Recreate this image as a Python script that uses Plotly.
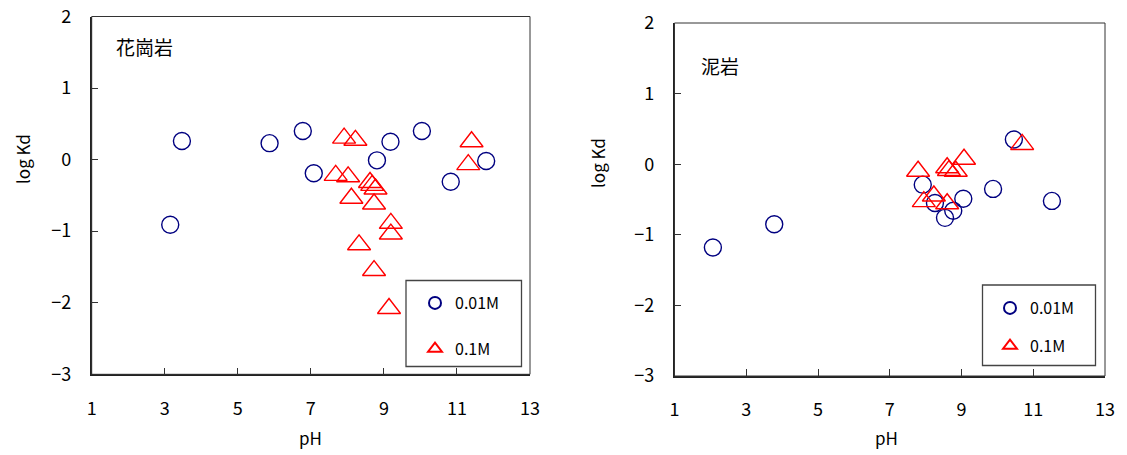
import plotly.graph_objects as go

# ---------------- data ----------------
# 花崗岩 (granite)
granite_001_ph = [3.15, 3.47, 5.87, 6.78, 7.08, 8.81, 9.18, 10.04, 10.83, 11.80]
granite_001_logkd = [-0.91, 0.26, 0.23, 0.40, -0.19, -0.01, 0.25, 0.40, -0.31, -0.02]
granite_01_ph = [7.91, 8.22, 11.40, 11.31, 7.68, 8.02, 8.62, 8.68, 8.77, 8.11, 8.73,
                 9.19, 9.19, 8.32, 8.73, 9.14]
granite_01_logkd = [0.30, 0.27, 0.25, -0.07, -0.22, -0.24, -0.32, -0.36, -0.41, -0.54, -0.62,
                    -0.89, -1.04, -1.19, -1.55, -2.08]

# 泥岩 (mudstone)
mud_001_ph = [2.07, 3.78, 7.92, 8.26, 8.54, 8.77, 9.05, 9.88, 10.46, 11.52]
mud_001_logkd = [-1.18, -0.85, -0.29, -0.55, -0.76, -0.66, -0.49, -0.35, 0.35, -0.52]
mud_01_ph = [7.79, 7.95, 8.23, 8.60, 8.60, 8.65, 8.84, 9.07, 10.69]
mud_01_logkd = [-0.10, -0.53, -0.45, -0.56, -0.05, -0.09, -0.10, 0.07, 0.28]

x_ticks = [1, 3, 5, 7, 9, 11, 13]
y_ticks = [-3, -2, -1, 0, 1, 2]
legend_names = ["0.01M", "0.1M"]

W, H = 1127, 455
FONT = "Noto Sans CJK JP, Liberation Sans, sans-serif"
BLUE = "#000080"
RED = "#FF0000"

def px_x(p):
    return p / W

def px_y(p):
    return (H - p) / H

fig = go.Figure()

circle_marker = dict(symbol="circle-open", size=17, color=BLUE, line=dict(width=1.4, color=BLUE))
tri_marker = dict(symbol="triangle-up-open", size=20, color=RED, line=dict(width=1.4, color=RED))

fig.add_trace(go.Scatter(x=granite_001_ph, y=granite_001_logkd, mode="markers", name=legend_names[0],
                         marker=circle_marker, xaxis="x", yaxis="y", legend="legend",
                         legendgroup="a1"))
fig.add_trace(go.Scatter(x=granite_01_ph, y=granite_01_logkd, mode="markers", name=legend_names[1],
                         marker=tri_marker, xaxis="x", yaxis="y", legend="legend",
                         legendgroup="a2"))
fig.add_trace(go.Scatter(x=mud_001_ph, y=mud_001_logkd, mode="markers", name=legend_names[0],
                         marker=circle_marker, xaxis="x2", yaxis="y2", legend="legend2",
                         legendgroup="b1"))
fig.add_trace(go.Scatter(x=mud_01_ph, y=mud_01_logkd, mode="markers", name=legend_names[1],
                         marker=tri_marker, xaxis="x2", yaxis="y2", legend="legend2",
                         legendgroup="b2"))

axis_common = dict(
    showgrid=False, zeroline=False, showline=True, linecolor="#222222", linewidth=1.5,
    ticks="inside", ticklen=7, tickwidth=1, tickcolor="#333333",
    tickfont=dict(family=FONT, size=18, color="#000000"),
    automargin=False, fixedrange=True,
)

# left subplot domains
x1_dom = [px_x(91.7), px_x(530)]
y1_dom = [px_y(374.3), px_y(16.5)]
# right subplot domains
x2_dom = [px_x(674.5), px_x(1105)]
y2_dom = [px_y(376), px_y(23)]

fig.update_layout(
    width=W, height=H,
    margin=dict(l=0, r=0, t=0, b=0),
    paper_bgcolor="white", plot_bgcolor="white",
    font=dict(family=FONT, size=16, color="#000000"),
    xaxis=dict(domain=x1_dom, range=[1, 13], tickvals=x_ticks, anchor="y",
               ticklabelstandoff=17, **axis_common),
    yaxis=dict(domain=y1_dom, range=[-3, 2], tickvals=y_ticks, anchor="x",
               ticklabelstandoff=15, **axis_common),
    xaxis2=dict(domain=x2_dom, range=[1, 13], tickvals=x_ticks, anchor="y2",
                ticklabelstandoff=17, **axis_common),
    yaxis2=dict(domain=y2_dom, range=[-3, 2], tickvals=y_ticks, anchor="x2",
                ticklabelstandoff=15, **axis_common),
    legend=dict(x=px_x(415), y=px_y(286), xanchor="left", yanchor="top",
                bgcolor="rgba(0,0,0,0)", borderwidth=0, itemsizing="constant",
                tracegroupgap=22, font=dict(family=FONT, size=16)),
    legend2=dict(x=px_x(990), y=px_y(291), xanchor="left", yanchor="top",
                 bgcolor="rgba(0,0,0,0)", borderwidth=0, itemsizing="constant",
                 tracegroupgap=14, font=dict(family=FONT, size=16)),
    showlegend=True,
)

# plot frames (top/right thin lines) and legend boxes
shapes = []
for xr, yr in (("x domain", "y domain"), ("x2 domain", "y2 domain")):
    shapes.append(dict(type="rect", xref=xr, yref=yr, x0=0, x1=1, y0=0, y1=1,
                       line=dict(color="#333333", width=1), layer="above"))
shapes.append(dict(type="rect", xref="paper", yref="paper",
                   x0=px_x(406), x1=px_x(521.5), y0=px_y(366.5), y1=px_y(280.5),
                   line=dict(color="#444444", width=1.3), fillcolor="rgba(0,0,0,0)"))
shapes.append(dict(type="rect", xref="paper", yref="paper",
                   x0=px_x(982.5), x1=px_x(1095.5), y0=px_y(365.5), y1=px_y(285),
                   line=dict(color="#444444", width=1.3), fillcolor="rgba(0,0,0,0)"))
fig.update_layout(shapes=shapes)

annotations = [
    dict(text="花崗岩", x=px_x(114), y=px_y(47), xanchor="left", yanchor="middle",
         font=dict(family=FONT, size=19)),
    dict(text="泥岩", x=px_x(699), y=px_y(65), xanchor="left", yanchor="middle",
         font=dict(family=FONT, size=19)),
    dict(text="log Kd", x=px_x(22), y=px_y(159), textangle=-90, xanchor="center", yanchor="middle",
         font=dict(family=FONT, size=17)),
    dict(text="log Kd", x=px_x(598), y=px_y(163), textangle=-90, xanchor="center", yanchor="middle",
         font=dict(family=FONT, size=17)),
    dict(text="pH", x=px_x(310), y=px_y(437), xanchor="center", yanchor="middle",
         font=dict(family=FONT, size=17)),
    dict(text="pH", x=px_x(887), y=px_y(437), xanchor="center", yanchor="middle",
         font=dict(family=FONT, size=17)),
]
for a in annotations:
    a.update(xref="paper", yref="paper", showarrow=False)
fig.update_layout(annotations=annotations)

fig.write_html("out.html")
